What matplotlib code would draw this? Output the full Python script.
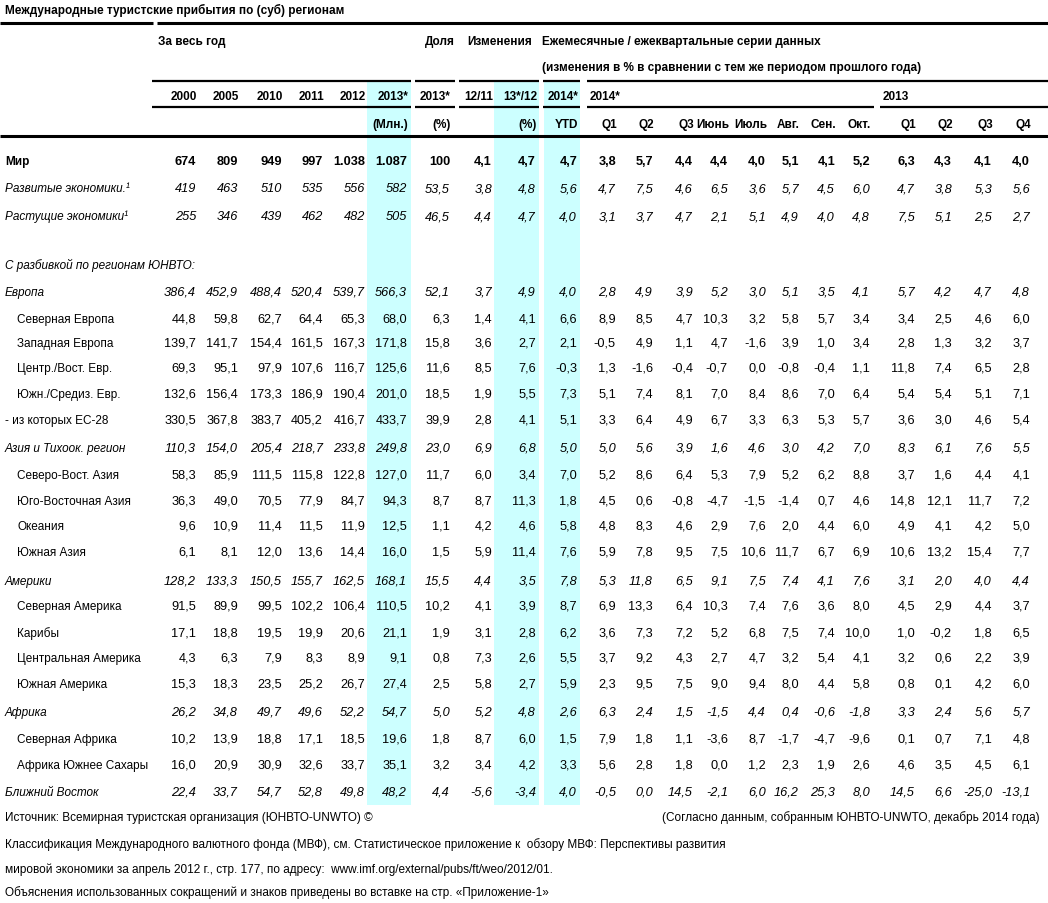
import matplotlib
matplotlib.use('Agg')
import matplotlib.pyplot as plt
from matplotlib.patches import Rectangle

labels = ['Мир', 'Развитые экономики.¹', 'Растущие экономики¹',
          'С разбивкой по регионам ЮНВТО:',
          'Европа', 'Северная Европа', 'Западная Европа', 'Центр./Вост. Евр.',
          'Южн./Средиз. Евр.', '- из которых ЕС-28',
          'Азия и Тихоок. регион', 'Северо-Вост. Азия', 'Юго-Восточная Азия',
          'Океания', 'Южная Азия',
          'Америки', 'Северная Америка', 'Карибы', 'Центральная Америка', 'Южная Америка',
          'Африка', 'Северная Африка', 'Африка Южнее Сахары',
          'Ближний Восток']

world = [674, 809, 949, 997, 1038, 1087, 100, 4.1, 4.7, 4.7, 3.8, 5.7, 4.4, 4.4, 4.0, 5.1, 4.1, 5.2, 6.3, 4.3, 4.1, 4.0]
advanced = [419, 463, 510, 535, 556, 582, 53.5, 3.8, 4.8, 5.6, 4.7, 7.5, 4.6, 6.5, 3.6, 5.7, 4.5, 6.0, 4.7, 3.8, 5.3, 5.6]
emerging = [255, 346, 439, 462, 482, 505, 46.5, 4.4, 4.7, 4.0, 3.1, 3.7, 4.7, 2.1, 5.1, 4.9, 4.0, 4.8, 7.5, 5.1, 2.5, 2.7]
europe = [386.4, 452.9, 488.4, 520.4, 539.7, 566.3, 52.1, 3.7, 4.9, 4.0, 2.8, 4.9, 3.9, 5.2, 3.0, 5.1, 3.5, 4.1, 5.7, 4.2, 4.7, 4.8]
north_eu = [44.8, 59.8, 62.7, 64.4, 65.3, 68.0, 6.3, 1.4, 4.1, 6.6, 8.9, 8.5, 4.7, 10.3, 3.2, 5.8, 5.7, 3.4, 3.4, 2.5, 4.6, 6.0]
west_eu = [139.7, 141.7, 154.4, 161.5, 167.3, 171.8, 15.8, 3.6, 2.7, 2.1, -0.5, 4.9, 1.1, 4.7, -1.6, 3.9, 1.0, 3.4, 2.8, 1.3, 3.2, 3.7]
central_eu = [69.3, 95.1, 97.9, 107.6, 116.7, 125.6, 11.6, 8.5, 7.6, -0.3, 1.3, -1.6, -0.4, -0.7, 0.0, -0.8, -0.4, 1.1, 11.8, 7.4, 6.5, 2.8]
south_eu = [132.6, 156.4, 173.3, 186.9, 190.4, 201.0, 18.5, 1.9, 5.5, 7.3, 5.1, 7.4, 8.1, 7.0, 8.4, 8.6, 7.0, 6.4, 5.4, 5.4, 5.1, 7.1]
eu28 = [330.5, 367.8, 383.7, 405.2, 416.7, 433.7, 39.9, 2.8, 4.1, 5.1, 3.3, 6.4, 4.9, 6.7, 3.3, 6.3, 5.3, 5.7, 3.6, 3.0, 4.6, 5.4]
asia = [110.3, 154.0, 205.4, 218.7, 233.8, 249.8, 23.0, 6.9, 6.8, 5.0, 5.0, 5.6, 3.9, 1.6, 4.6, 3.0, 4.2, 7.0, 8.3, 6.1, 7.6, 5.5]
ne_asia = [58.3, 85.9, 111.5, 115.8, 122.8, 127.0, 11.7, 6.0, 3.4, 7.0, 5.2, 8.6, 6.4, 5.3, 7.9, 5.2, 6.2, 8.8, 3.7, 1.6, 4.4, 4.1]
se_asia = [36.3, 49.0, 70.5, 77.9, 84.7, 94.3, 8.7, 8.7, 11.3, 1.8, 4.5, 0.6, -0.8, -4.7, -1.5, -1.4, 0.7, 4.6, 14.8, 12.1, 11.7, 7.2]
oceania = [9.6, 10.9, 11.4, 11.5, 11.9, 12.5, 1.1, 4.2, 4.6, 5.8, 4.8, 8.3, 4.6, 2.9, 7.6, 2.0, 4.4, 6.0, 4.9, 4.1, 4.2, 5.0]
south_asia = [6.1, 8.1, 12.0, 13.6, 14.4, 16.0, 1.5, 5.9, 11.4, 7.6, 5.9, 7.8, 9.5, 7.5, 10.6, 11.7, 6.7, 6.9, 10.6, 13.2, 15.4, 7.7]
americas = [128.2, 133.3, 150.5, 155.7, 162.5, 168.1, 15.5, 4.4, 3.5, 7.8, 5.3, 11.8, 6.5, 9.1, 7.5, 7.4, 4.1, 7.6, 3.1, 2.0, 4.0, 4.4]
north_am = [91.5, 89.9, 99.5, 102.2, 106.4, 110.5, 10.2, 4.1, 3.9, 8.7, 6.9, 13.3, 6.4, 10.3, 7.4, 7.6, 3.6, 8.0, 4.5, 2.9, 4.4, 3.7]
caribbean = [17.1, 18.8, 19.5, 19.9, 20.6, 21.1, 1.9, 3.1, 2.8, 6.2, 3.6, 7.3, 7.2, 5.2, 6.8, 7.5, 7.4, 10.0, 1.0, -0.2, 1.8, 6.5]
central_am = [4.3, 6.3, 7.9, 8.3, 8.9, 9.1, 0.8, 7.3, 2.6, 5.5, 3.7, 9.2, 4.3, 2.7, 4.7, 3.2, 5.4, 4.1, 3.2, 0.6, 2.2, 3.9]
south_am = [15.3, 18.3, 23.5, 25.2, 26.7, 27.4, 2.5, 5.8, 2.7, 5.9, 2.3, 9.5, 7.5, 9.0, 9.4, 8.0, 4.4, 5.8, 0.8, 0.1, 4.2, 6.0]
africa = [26.2, 34.8, 49.7, 49.6, 52.2, 54.7, 5.0, 5.2, 4.8, 2.6, 6.3, 2.4, 1.5, -1.5, 4.4, 0.4, -0.6, -1.8, 3.3, 2.4, 5.6, 5.7]
north_af = [10.2, 13.9, 18.8, 17.1, 18.5, 19.6, 1.8, 8.7, 6.0, 1.5, 7.9, 1.8, 1.1, -3.6, 8.7, -1.7, -4.7, -9.6, 0.1, 0.7, 7.1, 4.8]
subsahara = [16.0, 20.9, 30.9, 32.6, 33.7, 35.1, 3.2, 3.4, 4.2, 3.3, 5.6, 2.8, 1.8, 0.0, 1.2, 2.3, 1.9, 2.6, 4.6, 3.5, 4.5, 6.1]
middle_east = [22.4, 33.7, 54.7, 52.8, 49.8, 48.2, 4.4, -5.6, -3.4, 4.0, -0.5, 0.0, 14.5, -2.1, 6.0, 16.2, 25.3, 8.0, 14.5, 6.6, -25.0, -13.1]

rows = [world, advanced, emerging, None, europe, north_eu, west_eu, central_eu, south_eu, eu28,
        asia, ne_asia, se_asia, oceania, south_asia, americas, north_am, caribbean,
        central_am, south_am, africa, north_af, subsahara, middle_east]

hdr_years = ['2000', '2005', '2010', '2011', '2012', '2013*', '2013*', '12/11', '13*/12', '2014*']
# units row: column index -> label (12/11 has none)
hdr_units = {5: '(Млн.)', 6: '(%)', 8: '(%)', 9: 'YTD', 10: 'Q1', 11: 'Q2', 12: 'Q3', 13: 'Июнь',
             14: 'Июль', 15: 'Авг.', 16: 'Сен.', 17: 'Окт.', 18: 'Q1', 19: 'Q2', 20: 'Q3', 21: 'Q4'}

# layout (pixel coords)
col_x = [196, 238, 282, 323, 365, 407, 450, 492, 536, 577, 616, 653, 693, 728, 766, 799, 835, 870,
         915, 952, 992, 1030]
row_y = [162, 189, 217, 265, 293, 320, 344, 369, 395, 421, 449, 476, 502, 527, 553, 582, 607, 634,
         659, 685, 713, 740, 766, 793]
styles = ['bold', 'italic', 'italic', 'italic', 'italic', 'normal', 'normal', 'normal', 'normal', 'normal',
          'italic', 'normal', 'normal', 'normal', 'normal', 'italic', 'normal', 'normal', 'normal', 'normal',
          'italic', 'normal', 'normal', 'italic']
indent = [5, 5, 5, 5, 5, 17, 17, 17, 17, 5, 5, 17, 17, 17, 17, 5, 17, 17, 17, 17, 5, 17, 17, 5]

FONT = ['Liberation Sans', 'DejaVu Sans']
FS = 8.5     # labels / headers / notes
FS_NUM = 9.2  # numbers


def fmt(v):
    if isinstance(v, int):
        if v >= 1000:
            return f'{v // 1000}.{v % 1000:03d}'
        return str(v)
    return f'{v:.1f}'.replace('.', ',')


def txt(x, y, s, ha='left', weight='normal', style='normal', size=FS):
    ax.text(x, y, s, ha=ha, va='center', fontsize=size, family=FONT,
            fontweight=weight, fontstyle=style, color='black')


fig = plt.figure(figsize=(10.48, 9.04), dpi=100)
ax = fig.add_axes([0, 0, 1, 1])
ax.set_xlim(0, 1048)
ax.set_ylim(904, 0)
ax.axis('off')

# shaded columns
for x0, x1 in [(367, 411), (494, 539), (544, 580)]:
    ax.add_patch(Rectangle((x0, 83), x1 - x0, 723, facecolor='#ccffff', edgecolor='none', zorder=0))

# title and rules
txt(5, 10, 'Международные туристские прибытия по (суб) регионам', weight='bold')
for x0, x1 in [(0, 153), (157, 1048)]:
    ax.plot([x0, x1], [24, 24], color='black', lw=2.2, solid_capstyle='butt')
for x0, x1 in [(152, 411), (415, 455), (459, 539), (543, 580), (587, 1048)]:
    ax.plot([x0, x1], [82, 82], color='black', lw=1.6, solid_capstyle='butt')
for x0, x1 in [(152, 411), (415, 455), (459, 539), (543, 580), (587, 874), (880, 1048)]:
    ax.plot([x0, x1], [108, 108], color='black', lw=1.6, solid_capstyle='butt')
ax.plot([0, 1048], [137, 137], color='black', lw=2.2, solid_capstyle='butt')

# header
txt(158, 42, 'За весь год', weight='bold')
txt(425, 42, 'Доля', weight='bold')
txt(467, 42, 'Изменения', weight='bold')
txt(542, 42, 'Ежемесячные / ежеквартальные серии данных', weight='bold')
txt(542, 68, '(изменения в % в сравнении с тем же периодом прошлого года)', weight='bold')
for i, h in enumerate(hdr_years):
    txt(col_x[i] + 1, 97, h, ha='right', weight='bold')
txt(590, 97, '2014*', weight='bold')
txt(883, 97, '2013', weight='bold')
for i, h in hdr_units.items():
    txt(col_x[i] + 1, 125, h, ha='right', weight='bold')

# body
for lab, vals, y, st, x0 in zip(labels, rows, row_y, styles, indent):
    w = 'bold' if st == 'bold' else 'normal'
    s = 'italic' if st == 'italic' else 'normal'
    txt(x0, y, lab, weight=w, style=s)
    if vals is None:
        continue
    for x, v in zip(col_x, vals):
        txt(x, y, fmt(v), ha='right', weight=w, style=s, size=FS_NUM)

# footnotes
txt(5, 818, 'Источник: Всемирная туристская организация (ЮНВТО-UNWTO) ©')
txt(1040, 818, '(Согласно данным, собранным ЮНВТО-UNWTO, декабрь 2014 года)', ha='right')
txt(5, 845, 'Классификация Международного валютного фонда (МВФ), см. Статистическое приложение к  обзору МВФ: Перспективы развития')
txt(5, 870, 'мировой экономики за апрель 2012 г., стр. 177, по адресу:  www.imf.org/external/pubs/ft/weo/2012/01.')
txt(5, 893, 'Объяснения использованных сокращений и знаков приведены во вставке на стр. «Приложение-1»')

fig.savefig('out.png', dpi=100)
